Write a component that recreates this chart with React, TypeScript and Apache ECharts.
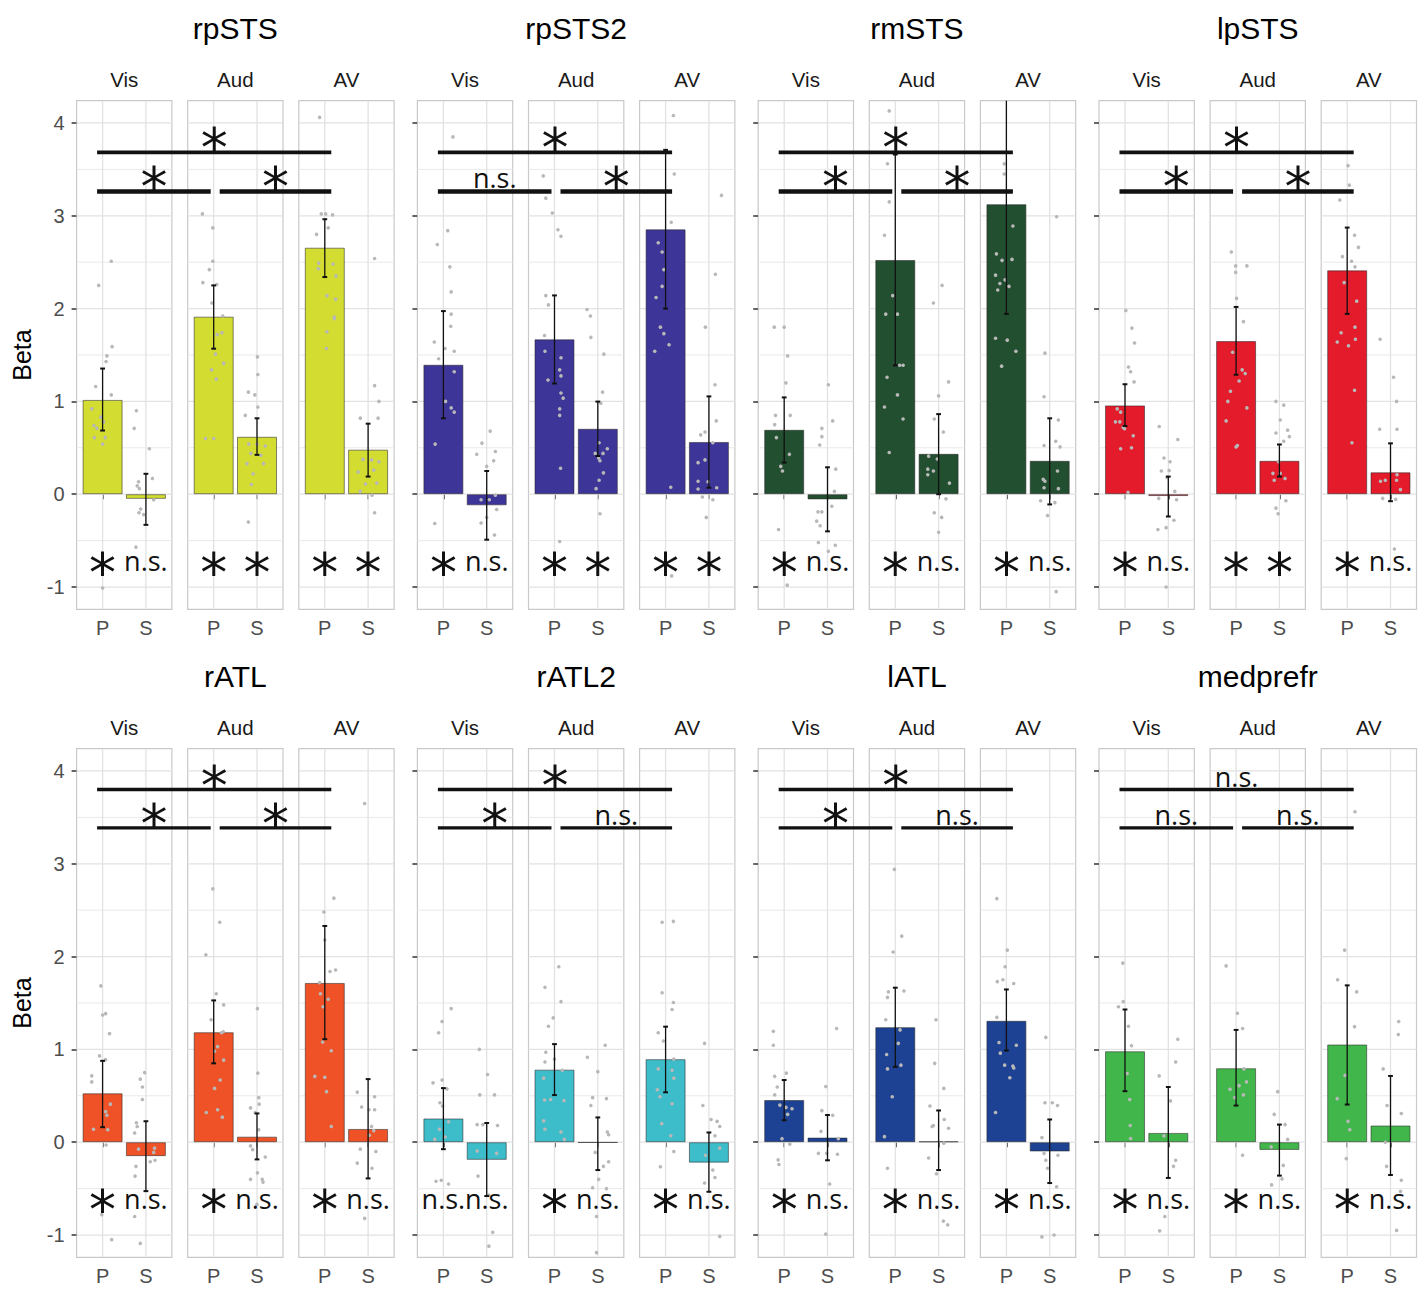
import React, { useEffect, useRef } from 'react';
import * as echarts from 'echarts';

// ---------------- DATA ----------------
const REGIONS = ['rpSTS', 'rpSTS2', 'rmSTS', 'lpSTS', 'rATL', 'rATL2', 'lATL', 'medprefr'];
const FACETS = ['Vis', 'Aud', 'AV'];
const CONDS = ['P', 'S'];
const COLORS = ['#d3dc30', '#3e3599', '#234f31', '#e31b2b', '#ee5226', '#3dbcc9', '#1e4293', '#41b64a'];
const Y_TICKS = [-1, 0, 1, 2, 3, 4];
const Y_GRID = [-1, -0.5, 0, 0.5, 1, 1.5, 2, 2.5, 3, 3.5, 4];

// bar means per facet [P, S]
const MEAN_rpSTS = [[1.016, -0.05], [1.913, 0.619], [2.656, 0.48]];
const MEAN_rpSTS2 = [[1.395, -0.12], [1.669, 0.705], [2.854, 0.563]];
const MEAN_rmSTS = [[0.694, -0.056], [2.524, 0.435], [3.125, 0.36]];
const MEAN_lpSTS = [[0.957, -0.02], [1.65, 0.36], [2.412, 0.236]];
const MEAN_rATL = [[0.527, -0.15], [1.185, 0.06], [1.716, 0.143]];
const MEAN_rATL2 = [[0.256, -0.19], [0.782, -0.005], [0.895, -0.22]];
const MEAN_lATL = [[0.455, 0.05], [1.24, 0.01], [1.308, -0.1]];
const MEAN_medprefr = [[0.98, 0.1], [0.797, -0.083], [1.053, 0.18]];

// error bars per facet [[Plo, Phi], [Slo, Shi]]
const ERR_rpSTS = [[[0.686, 1.354], [-0.33, 0.22]], [[1.568, 2.25], [0.424, 0.818]], [[2.34, 2.963], [0.19, 0.76]]];
const ERR_rpSTS2 = [[[0.818, 1.973], [-0.49, 0.25]], [[1.193, 2.142], [0.412, 0.998]], [[2.0, 3.71], [0.07, 1.054]]];
const ERR_rmSTS = [[[0.341, 1.043], [-0.4, 0.29]], [[1.388, 3.66], [0.0, 0.863]], [[1.943, 4.31], [-0.11, 0.818]]];
const ERR_lpSTS = [[[0.735, 1.185], [-0.24, 0.19]], [[1.287, 2.018], [0.19, 0.536]], [[1.943, 2.873], [-0.075, 0.548]]];
const ERR_rATL = [[[0.162, 0.877], [-0.527, 0.226]], [[0.85, 1.528], [-0.185, 0.31]], [[1.11, 2.33], [-0.39, 0.68]]];
const ERR_rATL2 = [[[-0.075, 0.583], [-0.58, 0.207]], [[0.508, 1.057], [-0.3, 0.267]], [[0.538, 1.245], [-0.534, 0.105]]];
const ERR_lATL = [[[0.237, 0.67], [-0.195, 0.293]], [[0.812, 1.665], [-0.3, 0.342]], [[0.988, 1.646], [-0.44, 0.245]]];
const ERR_medprefr = [[[0.55, 1.43], [-0.385, 0.595]], [[0.395, 1.21], [-0.36, 0.19]], [[0.406, 1.69], [-0.353, 0.714]]];

// individual points [jitter offset, beta]; order: VisP, VisS, AudP, AudS, AVP, AVS
const PTS_rpSTS = [
  [[-0.09, 2.25], [0.2, 2.51], [0.22, 1.59], [0.1, 1.49], [0.08, 1.43], [-0.16, 1.16], [0.2, 1.07], [-0.25, 0.92], [-0.04, 0.83], [0.02, 0.78], [-0.2, 0.74], [-0.13, 0.71], [-0.19, 0.61], [0.06, 0.61], [0, 0.54], [0, -1.01]],
  [[-0.22, 0.9], [-0.27, 0.71], [0.08, 0.49], [0.15, 0.17], [-0.17, 0.135], [-0.2, 0.09], [-0.15, 0.06], [0.18, -0.06], [-0.12, -0.16], [-0.16, -0.2], [-0.05, -0.22], [-0.23, -0.57]],
  [[-0.26, 3.02], [-0.02, 2.87], [-0.02, 2.51], [-0.1, 2.42], [-0.25, 2.28], [0.07, 2.26], [-0.04, 2.06], [0.21, 1.92], [0.19, 1.74], [0.08, 1.72], [0.04, 1.51], [0.23, 1.41], [-0.05, 1.34], [0.06, 1.24], [-0.19, 0.6], [0, 0.6]],
  [[0.01, 1.48], [0.02, 1.29], [-0.2, 1.1], [-0.05, 1.07], [0.02, 0.94], [-0.27, 0.85], [0.19, 0.52], [-0.19, 0.54], [0, 0.54], [-0.14, 0.44], [0.09, 0.42], [-0.23, 0.33], [0.15, 0.33], [-0.09, 0.22], [-0.13, 0.105], [-0.2, -0.3]],
  [[-0.12, 4.06], [-0.08, 3.02], [0.02, 3.02], [0.18, 3.01], [-0.19, 2.8], [0.08, 2.87], [-0.14, 2.49], [0.19, 2.48], [-0.15, 2.43], [0.26, 2.35], [0.05, 2.14], [0.25, 2.1], [0.22, 1.91], [0.22, 1.89], [0.05, 1.75], [0.04, 1.57]],
  [[0.15, 2.54], [0.15, 1.17], [0.25, 1.0], [-0.18, 0.82], [0.23, 0.82], [-0.12, 0.375], [0.08, 0.37], [0.25, 0.35], [0.13, 0.26], [-0.23, 0.24], [-0.06, 0.11], [0.2, 0.12], [0.09, -0.01], [0.15, -0.2], [-0.18, 0.03]],
];
const PTS_rpSTS2 = [
  [[0.22, 3.85], [0.1, 2.84], [-0.14, 2.69], [0.15, 2.45], [0.18, 2.18], [0.18, 1.94], [0.17, 1.81], [-0.21, 1.64], [0.04, 1.57], [0.25, 1.54], [-0.11, 1.46], [0.25, 1.32], [0.05, 1.0], [0.18, 0.93], [0.25, 0.885], [-0.19, 0.54], [-0.2, -0.315]],
  [[0.08, 0.68], [-0.11, 0.55], [-0.23, 0.43], [0.2, 0.46], [0.16, 0.36], [0, 0.3], [0.2, -0.01], [-0.13, -0.06], [0.06, -0.06], [0.23, -0.165], [0, -0.25], [-0.13, -0.31], [0.18, -0.44]],
  [[-0.26, 3.43], [-0.2, 3.19], [-0.05, 3.03], [0.08, 2.85], [0.15, 2.78], [-0.2, 2.14], [-0.14, 2.04], [-0.23, 1.71], [-0.22, 1.54], [0.15, 1.47], [0.12, 1.34], [0.15, 1.275], [-0.15, 1.23], [0.15, 1.09], [0.2, 1.035], [0.12, 0.92], [0.12, 0.85], [0.14, 0.28], [0.12, -0.51]],
  [[-0.25, 1.99], [-0.17, 1.92], [-0.16, 1.69], [0.14, 1.51], [0.11, 1.1], [0.07, 0.98], [0.03, 0.555], [-0.06, 0.44], [0.12, 0.44], [0.22, 0.49], [0.02, 0.39], [0.05, 0.36], [0.13, 0.23], [0.03, 0.15], [-0.04, 0.06], [0.05, -0.21]],
  [[0.18, 4.08], [0.2, 3.45], [0.13, 2.93], [-0.17, 2.71], [-0.08, 2.61], [-0.04, 2.42], [-0.08, 2.24], [-0.22, 2.12], [-0.12, 1.8], [-0.04, 1.73], [0.08, 1.61], [-0.25, 1.54], [0.12, 0.075], [0.14, -0.88]],
  [[0.29, 3.22], [0.15, 2.37], [-0.08, 1.8], [0.14, 1.18], [0.17, 0.79], [-0.19, 0.64], [-0.09, 0.67], [0.09, 0.555], [-0.09, 0.37], [-0.25, 0.34], [-0.25, 0.14], [-0.02, 0.135], [-0.25, 0.056], [0.18, 0.07], [-0.15, -0.03], [0.09, -0.06], [-0.06, -0.25]],
];
const PTS_rmSTS = [
  [[-0.23, 1.8], [0, 1.8], [0.08, 1.49], [0.04, 1.2], [-0.2, 0.85], [0.14, 0.85], [-0.22, 0.75], [-0.18, 0.61], [0.12, 0.43], [-0.08, 0.3], [-0.04, 0.25], [-0.13, -0.38], [0.07, -0.98]],
  [[0.02, 1.18], [0.12, 0.79], [-0.13, 0.71], [-0.13, 0.62], [-0.18, 0.53], [0.19, 0.27], [0.16, 0.03], [0.1, -0.13], [-0.22, -0.19], [-0.13, -0.19], [-0.25, -0.29], [-0.17, -0.34], [-0.21, -0.52], [0.02, -0.615], [0.18, -0.55]],
  [[-0.14, 4.13], [-0.18, 3.56], [-0.14, 3.15], [-0.25, 2.79], [-0.06, 2.14], [-0.22, 1.94], [0.05, 1.94], [0.1, 1.39], [0.18, 1.39], [-0.19, 1.26], [0.05, 1.07], [-0.25, 0.94], [0.18, 0.81], [-0.14, 0.45]],
  [[0.08, 2.25], [-0.12, 2.06], [0.23, 1.21], [0, 1.06], [-0.1, 0.81], [0.11, 0.67], [-0.23, 0.41], [-0.03, 0.38], [-0.25, 0.27], [-0.12, 0.25], [-0.25, 0.21], [0.25, 0.12], [0.17, -0.05], [-0.1, -0.2], [0.07, -0.25], [0, -0.41]],
  [[-0.05, 3.56], [-0.05, 3.45], [0.15, 2.89], [-0.23, 2.59], [-0.1, 2.52], [0.13, 2.53], [-0.25, 2.36], [-0.15, 2.27], [-0.03, 2.31], [0.06, 2.24], [-0.2, 2.2], [-0.25, 1.68], [0.02, 1.66], [0.22, 1.54], [-0.11, 1.38]],
  [[0.16, 2.99], [-0.11, 1.52], [-0.13, 1.05], [0.2, 0.8], [-0.13, 0.525], [0.14, 0.57], [0.24, 0.51], [0.18, 0.25], [-0.15, 0.16], [-0.11, 0.14], [-0.13, 0.07], [0.2, 0.06], [-0.21, -0.07], [0.12, -0.09], [-0.05, -0.23], [0.15, -1.05]],
];
const PTS_lpSTS = [
  [[0.02, 1.98], [0.16, 1.79], [0.22, 1.63], [0.08, 1.37], [0.13, 1.32], [0.21, 1.21], [-0.18, 0.92], [-0.1, 0.885], [-0.22, 0.78], [-0.12, 0.78], [-0.04, 0.72], [-0.01, 0.705], [0.19, 0.63], [-0.1, 0.49], [0.15, 0.5], [0.07, 0.02]],
  [[-0.21, 0.73], [0.22, 0.59], [-0.1, 0.39], [0.04, 0.35], [-0.16, 0.25], [0.02, 0.255], [-0.03, 0.18], [0.15, 0.03], [-0.22, -0.045], [0.19, -0.06], [0.13, -0.28], [-0.05, -0.36], [-0.24, -0.38], [-0.05, -1.0]],
  [[-0.11, 2.61], [-0.01, 2.46], [0.25, 2.46], [-0.01, 2.39], [0.01, 2.11], [0.17, 1.86], [-0.08, 1.53], [0.14, 1.34], [0.21, 1.3], [0.07, 1.22], [-0.13, 1.11], [-0.19, 1.0], [0.25, 0.93], [-0.23, 0.79], [0.03, 0.525], [0, 0.51]],
  [[-0.08, 1.0], [0.1, 0.96], [0.02, 0.8], [0.19, 0.69], [-0.08, 0.66], [0.23, 0.62], [0.1, 0.57], [-0.02, 0.35], [-0.15, 0.225], [0.02, 0.225], [0.13, 0.17], [-0.12, 0.15], [0.15, -0.07], [-0.08, -0.15], [-0.03, -0.21]],
  [[0.02, 3.54], [0.05, 3.33], [-0.17, 3.17], [0.17, 2.79], [0.26, 2.66], [-0.11, 2.56], [0.1, 2.51], [0.18, 2.45], [-0.07, 2.28], [0.22, 2.08], [0.18, 1.8], [-0.14, 1.74], [0.19, 1.67], [-0.23, 1.64], [0.03, 1.6], [0.17, 1.12], [0.11, 0.555]],
  [[-0.24, 1.67], [0.07, 1.26], [0.14, 1.0], [-0.25, 0.7], [0.15, 0.7], [0.15, 0.21], [-0.23, 0.14], [-0.12, 0.15], [0.14, 0.15], [0.23, 0.05], [-0.18, -0.045], [0.12, -0.056], [0.09, -0.59]],
];
const PTS_rATL = [
  [[-0.04, 1.685], [0, 1.37], [0.07, 1.385], [0.16, 1.17], [-0.07, 0.93], [0.07, 0.89], [-0.25, 0.715], [-0.25, 0.65], [0.18, 0.41], [0.07, 0.33], [0.1, 0.29], [-0.21, 0.14], [0.12, 0.135], [0.08, -0.03], [-0.02, -0.78], [0.21, -1.05]],
  [[-0.03, 0.75], [-0.13, 0.68], [-0.08, 0.595], [-0.08, 0.46], [-0.22, 0.21], [-0.2, 0.17], [-0.26, 0.1], [-0.17, -0.075], [0.2, -0.064], [0.18, -0.11], [0.21, -0.195], [0.1, -0.21], [-0.23, -0.26], [-0.25, -0.365], [-0.26, -0.8], [-0.13, -1.09]],
  [[-0.02, 2.73], [0.14, 2.37], [-0.18, 2.02], [0.06, 1.6], [0.23, 1.48], [-0.06, 1.32], [0.22, 1.19], [0.18, 1.18], [0.09, 1.03], [0.02, 0.98], [0.23, 0.885], [0.15, 0.67], [0.02, 0.58], [-0.17, 0.32], [0.09, 0.35], [0.2, 0.27]],
  [[0.01, 1.44], [0.02, 0.745], [0.04, 0.48], [-0.15, 0.37], [0.05, 0.41], [-0.04, 0.32], [0.04, 0.135], [-0.15, -0.04], [-0.1, -0.08], [0.19, -0.16], [0.01, -0.33], [-0.15, -0.4], [0.12, -0.4], [0.14, -0.43], [0, -0.67]],
  [[0.21, 2.63], [-0.02, 2.48], [0, 2.18], [0.12, 1.84], [0.25, 1.855], [-0.12, 1.72], [-0.1, 1.6], [0.08, 1.54], [-0.04, 1.46], [-0.05, 1.08], [0.15, 0.985], [-0.23, 0.71], [0, 0.7], [0.04, 0.545], [0.15, 0.17]],
  [[-0.08, 3.65], [-0.25, 0.54], [0.15, 0.49], [-0.15, 0.38], [0.02, 0.35], [0.15, 0.35], [0.08, 0.17], [0.13, 0.125], [0.03, 0.075], [-0.18, -0.075], [0.18, -0.1], [-0.25, -0.225], [0.09, -0.28], [-0.08, -0.82]],
];
const PTS_rATL2 = [
  [[0.18, 1.44], [-0.03, 1.3], [-0.11, 1.18], [-0.24, 0.64], [-0.03, 0.67], [0.08, 0.575], [-0.08, 0.425], [-0.02, 0.39], [0.12, 0.22], [-0.09, 0.14], [0.04, 0.056], [-0.2, 0.03], [-0.17, -0.42], [-0.05, -0.41], [0.12, -0.45]],
  [[-0.17, 1.0], [0.02, 0.73], [-0.16, 0.51], [0.18, 0.51], [-0.22, 0.19], [-0.09, 0.19], [0.25, 0.18], [-0.22, -0.094], [0.23, -0.12], [-0.2, -0.365], [0.05, -0.57], [0.14, -0.97], [0.05, -1.12]],
  [[0.1, 1.89], [-0.22, 1.67], [0.15, 1.515], [-0.03, 1.34], [-0.14, 1.25], [-0.2, 0.97], [-0.22, 0.865], [0, 0.895], [0.18, 0.775], [-0.25, 0.69], [-0.23, 0.455], [-0.09, 0.46], [0.22, 0.45], [-0.25, 0.23], [-0.22, 0.14], [0.15, 0.11], [0.23, 0.03]],
  [[0.17, 1.045], [-0.24, 0.915], [0, 0.76], [-0.12, 0.48], [0.2, 0.47], [-0.16, 0.395], [0.22, 0.11], [0.25, 0.08], [-0.06, -0.11], [0.25, -0.21], [0.13, -0.26], [0.02, -0.4], [-0.12, -0.49], [0.2, -0.5], [-0.03, -0.8], [-0.03, -1.19]],
  [[-0.08, 2.37], [0.18, 2.38], [-0.08, 1.61], [0.18, 1.505], [0.15, 1.43], [-0.17, 1.18], [-0.05, 1.09], [0.19, 0.895], [-0.17, 0.79], [0.15, 0.775], [0.19, 0.69], [-0.19, 0.565], [-0.13, 0.49], [0.15, 0.415], [-0.09, 0.2], [0.12, 0.07], [0.19, -0.1], [-0.12, -0.265]],
  [[-0.1, 1.065], [-0.14, 0.395], [0.05, 0.245], [0.19, 0.225], [0.25, 0.17], [0.14, 0.07], [0.25, -0.064], [-0.08, -0.14], [0.09, -0.3], [0.14, -0.38], [-0.1, -0.44], [0.25, -1.015]],
];
const PTS_lATL = [
  [[-0.25, 1.195], [-0.25, 1.045], [-0.22, 0.71], [0.05, 0.745], [-0.16, 0.595], [-0.22, 0.51], [-0.1, 0.4], [0.04, 0.375], [0.18, 0.36], [0.08, 0.3], [-0.05, 0.038], [0.13, -0.02], [-0.14, -0.19], [-0.12, -0.24]],
  [[0.21, 1.225], [-0.04, 0.6], [-0.13, 0.34], [0.12, 0.29], [-0.15, 0.117], [0.25, 0.038], [-0.21, -0.12], [-0.02, -0.12], [0.23, -0.13], [0.05, -0.45], [-0.04, -0.99]],
  [[-0.02, 2.94], [0.15, 2.22], [-0.05, 2.05], [-0.16, 1.62], [0.2, 1.63], [-0.18, 1.56], [-0.22, 1.32], [0.11, 1.21], [0.07, 1.065], [-0.2, 0.945], [0.13, 0.83], [-0.18, 0.79], [-0.07, 0.49], [-0.25, 0.06], [-0.18, -0.28]],
  [[-0.06, 1.32], [-0.09, 0.85], [0.12, 0.58], [-0.2, 0.39], [-0.12, 0.18], [-0.15, 0.17], [0.23, 0.15], [0.13, 0.245], [0.12, -0.01], [-0.23, -0.17], [-0.05, -0.34], [0.11, -0.85], [0.21, -0.89]],
  [[-0.22, 2.625], [0.02, 2.07], [-0.03, 1.89], [-0.21, 1.73], [-0.08, 1.75], [0.17, 1.71], [-0.22, 1.345], [-0.17, 1.075], [0.23, 1.045], [-0.14, 0.96], [-0.04, 0.83], [0.15, 0.82], [0.17, 0.8], [0.08, 0.695], [-0.25, 0.32]],
  [[-0.09, 1.13], [-0.11, 0.425], [0.06, 0.425], [0.18, 0.395], [-0.18, 0.05], [0.19, -0.14], [-0.13, -0.12], [-0.09, -0.195], [-0.05, -0.28], [0.16, -0.48], [-0.18, -1.02], [0.1, -1.0]],
];
const PTS_medprefr = [
  [[-0.05, 1.93], [-0.04, 1.515], [-0.15, 1.46], [0.08, 1.25], [0.15, 1.04], [0.05, 0.74], [0.11, 0.46], [0.12, 0.18], [0.13, 0.04]],
  [[0.22, 1.11], [0.17, 0.865], [-0.21, 0.715], [0.05, 0.445], [-0.1, 0.068], [0.17, -0.195], [0.12, -0.26], [-0.08, -0.8], [-0.2, -0.955]],
  [[-0.23, 1.9], [0.03, 1.39], [0.15, 1.225], [0.18, 0.79], [0.24, 0.65], [0.07, 0.61], [-0.14, 0.57], [0.17, 0.51], [-0.03, 0.48], [0.15, -0.14]],
  [[-0.04, 0.545], [-0.12, 0.3], [0.13, 0.19], [0.19, 0.03], [-0.19, -0.05], [0.09, -0.25], [0.06, -0.395], [-0.18, -0.46]],
  [[0.18, 3.56], [-0.06, 2.07], [-0.22, 1.75], [0.22, 1.62], [0.17, 1.245], [-0.05, 0.72], [-0.23, 0.47], [0.02, 0.225], [0.06, 0.135], [-0.02, -0.177]],
  [[0.19, 1.3], [0.18, 1.16], [-0.17, 0.79], [-0.08, 0.395], [0.25, 0.31], [-0.12, 0], [-0.09, -0.26], [0.25, -0.41], [0.23, -0.53], [0.14, -0.95]],
];

// significance labels
const SIG_TOP = ['*', '*', '*', '*', '*', '*', '*', 'n.s.'];      // Vis vs AV
const SIG_LEFT = ['*', 'n.s.', '*', '*', '*', '*', '*', 'n.s.'];  // Vis vs Aud
const SIG_RIGHT = ['*', '*', '*', '*', '*', 'n.s.', 'n.s.', 'n.s.']; // Aud vs AV
const SIG_BARS = [
  ['*', 'n.s.', '*', '*', '*', '*'],
  ['*', 'n.s.', '*', '*', '*', '*'],
  ['*', 'n.s.', '*', 'n.s.', '*', 'n.s.'],
  ['*', 'n.s.', '*', '*', '*', 'n.s.'],
  ['*', 'n.s.', '*', 'n.s.', '*', 'n.s.'],
  ['n.s.', 'n.s.', '*', 'n.s.', '*', 'n.s.'],
  ['*', 'n.s.', '*', 'n.s.', '*', 'n.s.'],
  ['*', 'n.s.', '*', 'n.s.', '*', 'n.s.'],
];

const MEANS = [MEAN_rpSTS, MEAN_rpSTS2, MEAN_rmSTS, MEAN_lpSTS, MEAN_rATL, MEAN_rATL2, MEAN_lATL, MEAN_medprefr];
const ERRS = [ERR_rpSTS, ERR_rpSTS2, ERR_rmSTS, ERR_lpSTS, ERR_rATL, ERR_rATL2, ERR_lATL, ERR_medprefr];
const PTS = [PTS_rpSTS, PTS_rpSTS2, PTS_rmSTS, PTS_lpSTS, PTS_rATL, PTS_rATL2, PTS_lATL, PTS_medprefr];

// ---------------- LAYOUT / STYLE ----------------
const REGION_X0 = 76.6;
const REGION_PITCH = 340.8;
const FACET_PITCH = 111.1;
const PANEL_W = 95.3;
const PANEL_H = 508.6;
const ROW_TOP = [100.7, 748.7];
const YMIN = -1.24;
const YMAX = 4.24;
const XSLOTS = Array.from({ length: 12 }, (_, i) => (i === 3 ? 'P' : i === 8 ? 'S' : '_' + i));
const SANS = '"Liberation Sans", Arial, Helvetica, sans-serif';
const STAR_FONT = '"DejaVu Sans", sans-serif';
const NS_FONT = '"Open Sans", "Noto Sans", sans-serif';
const TOP_LINE_Y = [3.683, 3.8];
const LOW_LINE_Y = [3.263, 3.387];
const BOTTOM_SIG_Y = [-0.75, -0.635];
const STAR_SIZE = 54;
const STAR_DY = 8.5;
const NS_SIZE = 27;
const NS_DY = -3;

export default function App() {
  const ref = useRef<HTMLDivElement>(null);

  useEffect(() => {
    const el = ref.current;
    if (!el) return;
    const chart = echarts.init(el, undefined, { renderer: 'svg' });

    const grids: any[] = [];
    const xAxes: any[] = [];
    const yAxes: any[] = [];
    const series: any[] = [];
    const texts: any[] = [];

    REGIONS.forEach((region, r) => {
      const row = Math.floor(r / 4);
      const col = r % 4;
      const regionLeft = REGION_X0 + col * REGION_PITCH;
      const top = ROW_TOP[row];
      const regionW = 2 * FACET_PITCH + PANEL_W;

      texts.push({
        type: 'text', x: regionLeft + regionW / 2, y: top - 72.5, z: 50,
        style: { text: region, fontSize: 30, fontFamily: SANS, fill: '#000', align: 'center', verticalAlign: 'middle', textAlign: 'center', textVerticalAlign: 'middle' },
      });

      FACETS.forEach((facet, f) => {
        const g = r * 3 + f;
        const left = regionLeft + f * FACET_PITCH;
        texts.push({
          type: 'text', x: left + PANEL_W / 2, y: top - 21.5, z: 50,
          style: { text: facet, fontSize: 20.5, fontFamily: SANS, fill: '#1a1a1a', align: 'center', verticalAlign: 'middle', textAlign: 'center', textVerticalAlign: 'middle' },
        });

        grids.push({
          left, top, width: PANEL_W, height: PANEL_H,
          show: true, borderColor: '#c9c9c9', borderWidth: 1.2, backgroundColor: 'rgba(0,0,0,0)',
          containLabel: false, outerBoundsMode: 'none',
        });

        const isSlot = (v: string) => v === 'P' || v === 'S';
        xAxes.push({
          type: 'category', gridIndex: g, data: XSLOTS, boundaryGap: false,
          axisLine: { show: false },
          splitLine: { show: false },
          axisTick: { show: true, interval: (_i: number, v: string) => isSlot(v), length: 5, lineStyle: { color: '#333', width: 1.5 } },
          axisLabel: {
            show: true, interval: (_i: number, v: string) => isSlot(v),
            formatter: (v: string) => (isSlot(v) ? v : ''),
            fontSize: 20, fontFamily: SANS, color: '#4d4d4d', margin: 9,
          },
        });
        xAxes.push({ type: 'value', gridIndex: g, min: 0.4, max: 2.6, show: false });

        const firstFacet = f === 0;
        yAxes.push({
          type: 'value', gridIndex: g, min: YMIN, max: YMAX,
          axisLine: { show: false },
          splitLine: { show: false },
          axisTick: { show: firstFacet, customValues: Y_TICKS, length: 5, lineStyle: { color: '#333', width: 1.5 } },
          axisLabel: { show: firstFacet && col === 0, customValues: Y_TICKS, fontSize: 20, fontFamily: SANS, color: '#4d4d4d', margin: 12 },
          name: firstFacet && col === 0 ? 'Beta' : '',
          nameLocation: 'middle', nameRotate: 90, nameGap: 42,
          nameTextStyle: { fontSize: 25, fontFamily: SANS, color: '#000' },
        });

        const catAxis = 2 * g;
        const valAxis = 2 * g + 1;

        // grid lines
        series.push({
          type: 'custom', xAxisIndex: valAxis, yAxisIndex: g, z: 1, silent: true,
          data: [...Y_GRID.map((v) => [0, v]), [1, 1], [1, 2]],
          renderItem: (params: any, api: any) => {
            const kind = api.value(0);
            const v = api.value(1);
            const cs = params.coordSys;
            if (kind === 0) {
              const y = api.coord([1, v])[1];
              const major = Math.abs(v - Math.round(v)) < 1e-6;
              return { type: 'line', shape: { x1: cs.x, y1: y, x2: cs.x + cs.width, y2: y }, style: { stroke: major ? '#e2e2e2' : '#e9e9e9', lineWidth: major ? 1.3 : 1 } };
            }
            const x = api.coord([v, 0])[0];
            return { type: 'line', shape: { x1: x, y1: cs.y, x2: x, y2: cs.y + cs.height }, style: { stroke: '#e2e2e2', lineWidth: 1.3 } };
          },
        });

        // bars
        const m = MEANS[r][f];
        series.push({
          type: 'bar', xAxisIndex: catAxis, yAxisIndex: g, z: 2, silent: true,
          barWidth: 40,
          data: CONDS.map((c, k) => [c, m[k]]),
          itemStyle: { color: COLORS[r], borderColor: 'rgba(40,40,40,0.55)', borderWidth: 1 },
        });

        // jittered points
        const pts: number[][] = [];
        CONDS.forEach((_c, k) => {
          PTS[r][f * 2 + k].forEach((p) => pts.push([k + 1 + p[0], p[1]]));
        });
        series.push({
          type: 'scatter', xAxisIndex: valAxis, yAxisIndex: g, z: 3, silent: true,
          symbol: 'circle', symbolSize: 3.6,
          data: pts,
          itemStyle: { color: '#b8b8b8', opacity: 1 },
        });

        // error bars
        const e = ERRS[r][f];
        series.push({
          type: 'custom', xAxisIndex: valAxis, yAxisIndex: g, z: 4, silent: true,
          data: CONDS.map((_c, k) => [k + 1, e[k][0], e[k][1]]),
          encode: { x: 0, y: [1, 2] },
          renderItem: (params: any, api: any) => {
            const x = api.value(0);
            const lo = api.value(1);
            const hi = api.value(2);
            const cs = params.coordSys;
            const pTop = api.coord([x, hi]);
            const pBot = api.coord([x, lo]);
            const yTop = Math.max(pTop[1], cs.y);
            const yBot = Math.min(pBot[1], cs.y + cs.height);
            const cx = pTop[0];
            const cap = 2.4;
            const children: any[] = [
              { type: 'line', shape: { x1: cx, y1: yTop, x2: cx, y2: yBot }, style: { stroke: '#111', lineWidth: 1.3 } },
            ];
            if (pTop[1] >= cs.y) children.push({ type: 'line', shape: { x1: cx - cap, y1: yTop, x2: cx + cap, y2: yTop }, style: { stroke: '#111', lineWidth: 2 } });
            children.push({ type: 'line', shape: { x1: cx - cap, y1: yBot, x2: cx + cap, y2: yBot }, style: { stroke: '#111', lineWidth: 2 } });
            return { type: 'group', children };
          },
        });
      });
    });

    const option: any = {
      animation: false,
      backgroundColor: '#ffffff',
      grid: grids,
      xAxis: xAxes,
      yAxis: yAxes,
      series,
      graphic: { elements: texts },
    };
    chart.setOption(option);

    // ---------- significance annotations, positioned through the axes ----------
    const ann: any[] = [];
    const px = (g: number, v: number) => chart.convertToPixel({ xAxisIndex: 2 * g + 1 } as any, v) as unknown as number;
    const py = (g: number, v: number) => chart.convertToPixel({ yAxisIndex: g } as any, v) as unknown as number;

    const sigText = (label: string, x: number, yCenter: number) => {
      if (label === '*') {
        ann.push({
          type: 'text', x, y: yCenter + STAR_DY, z: 60,
          style: { text: '*', fontSize: STAR_SIZE, fontFamily: STAR_FONT, fill: '#111', align: 'center', verticalAlign: 'middle', textAlign: 'center', textVerticalAlign: 'middle' },
        });
      } else {
        ann.push({
          type: 'text', x, y: yCenter + NS_DY, z: 60,
          style: { text: label, fontSize: NS_SIZE, fontFamily: NS_FONT, fill: '#111', align: 'center', verticalAlign: 'middle', textAlign: 'center', textVerticalAlign: 'middle' },
        });
      }
    };
    const seg = (x1: number, x2: number, y: number, w: number) => {
      ann.push({ type: 'line', z: 60, shape: { x1, y1: y, x2, y2: y }, style: { stroke: '#111', lineWidth: w, lineCap: 'butt' } });
    };

    REGIONS.forEach((_region, r) => {
      const row = Math.floor(r / 4);
      const gV = r * 3;
      const gA = r * 3 + 1;
      const gAV = r * 3 + 2;
      const xVP = px(gV, 1);
      const xAP = px(gA, 1);
      const xAVP = px(gAV, 1);
      const yTop = py(gV, TOP_LINE_Y[row]);
      const yLow = py(gV, LOW_LINE_Y[row]);
      const lowW = row === 0 ? 4.5 : 3.2;

      const t1 = xVP - 5.5, t2 = xAVP + 6.5;
      seg(t1, t2, yTop, 3.6);
      const l1 = xVP - 5.5, l2 = xAP - 3;
      seg(l1, l2, yLow, lowW);
      const r1 = xAP + 6, r2 = xAVP + 6.5;
      seg(r1, r2, yLow, lowW);

      const textAbove = (label: string, x: number, yLine: number) => {
        sigText(label, x, yLine - (label === '*' ? 13 : 10.5));
      };
      textAbove(SIG_TOP[r], (t1 + t2) / 2, yTop);
      textAbove(SIG_LEFT[r], (l1 + l2) / 2, yLow);
      textAbove(SIG_RIGHT[r], (r1 + r2) / 2, yLow);

      FACETS.forEach((_f, f) => {
        const g = r * 3 + f;
        CONDS.forEach((_c, k) => {
          const x = px(g, k + 1);
          const y = py(g, BOTTOM_SIG_Y[row]);
          sigText(SIG_BARS[r][f * 2 + k], x, y);
        });
      });
    });

    chart.setOption({ graphic: { elements: [...texts, ...ann] } });

    return () => {
      chart.dispose();
    };
  }, []);

  return (
    <div
      ref={ref}
      style={{ position: 'absolute', left: 0, top: 0, width: 1418, height: 1290, background: '#ffffff' }}
    />
  );
}
